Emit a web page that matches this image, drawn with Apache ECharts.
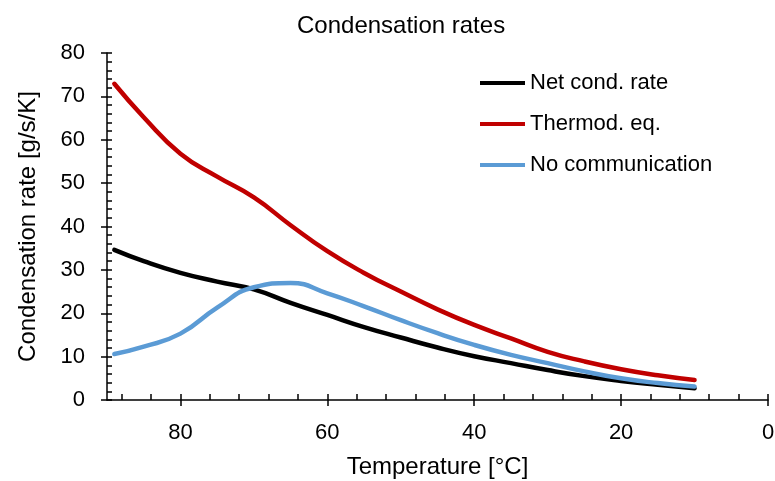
<!DOCTYPE html>
<html>
<head>
<meta charset="utf-8">
<script src="https://cdn.jsdelivr.net/npm/echarts@6/dist/echarts.min.js"></script>
<style>
    html, body { margin: 0; padding: 0; background: #fff; }
    #chart { width: 775px; height: 481px; }
</style>
</head>
<body>
<div id="chart"></div>
<script>
// temperatures in °C (axis runs from 90 down to 0)
const temps = [89, 85, 80, 75, 70, 65, 60, 55, 50, 45, 40, 35, 30, 25, 20, 15, 10]
// condensation rates [g/s/K]
const netRate = [34.6, 32.0, 29.3, 27.3, 25.5, 22.4, 19.6, 16.8, 14.4, 12.1, 10.1, 8.5, 6.9, 5.5, 4.4, 3.5, 2.7]
const thermoEq = [72.9, 65.2, 56.8, 51.5, 46.7, 40.3, 34.3, 29.3, 25.0, 20.9, 17.3, 14.2, 11.1, 8.9, 7.1, 5.7, 4.6]
const noComm = [10.6, 12.3, 15.3, 21.3, 26.0, 27.0, 24.6, 21.6, 18.4, 15.4, 12.7, 10.4, 8.5, 6.6, 5.0, 3.9, 3.1]
const seriesNames = ['Net cond. rate', 'Thermod. eq.', 'No communication']
const seriesColors = ['#000000', '#c00000', '#5b9bd5']
// tick positions
const xMajorTicks = [0, 20, 40, 60, 80]
const xMinorTicks = [0, 4, 8, 12, 16, 20, 24, 28, 32, 36, 40, 44, 48, 52, 56, 60, 64, 68, 72, 76, 80, 84, 88]
const yMajorTicks = [0, 10, 20, 30, 40, 50, 60, 70, 80]
const yMinorTicks = [0, 2, 4, 6, 8, 10, 12, 14, 16, 18, 20, 22, 24, 26, 28, 30, 32, 34, 36, 38, 40, 42, 44, 46, 48, 50, 52, 54, 56, 58, 60, 62, 64, 66, 68, 70, 72, 74, 76, 78, 80]

const font = 'Liberation Sans, Arial, sans-serif'
const chart = echarts.init(document.getElementById('chart'))

function pairs(vals) {
    return temps.map((t, i) => [t, vals[i]])
}

const tickStyle = { color: '#000', width: 1.5 }
const gridBox = { left: 107, right: 7, top: 53, bottom: 81, outerBoundsMode: 'none' }

const option = {
    animation: false,
    title: {
        text: 'Condensation rates',
        left: 292,
        top: 9,
        textStyle: { fontFamily: font, fontSize: 24, fontWeight: 'normal', color: '#000' }
    },
    legend: {
        orient: 'vertical',
        left: 475,
        top: 67,
        itemWidth: 45,
        itemHeight: 4,
        itemGap: 19,
        icon: 'rect',
        data: seriesNames,
        textStyle: { fontFamily: font, fontSize: 22, color: '#000', lineHeight: 22 }
    },
    // grid 0 carries the data and outside ticks, grid 1 only the inside ticks
    grid: [gridBox, gridBox],
    xAxis: [{
        type: 'value',
        gridIndex: 0,
        min: 0,
        max: 90,
        inverse: true,
        interval: 20,
        name: 'Temperature [°C]',
        nameLocation: 'middle',
        nameGap: 55,
        nameTextStyle: { fontFamily: font, fontSize: 24, color: '#000' },
        axisLine: { show: true, onZero: false, lineStyle: tickStyle },
        axisTick: { show: true, inside: false, length: 6, customValues: xMajorTicks, lineStyle: tickStyle },
        axisLabel: { fontFamily: font, fontSize: 22, color: '#000', margin: 22, customValues: xMajorTicks },
        splitLine: { show: false }
    }, {
        type: 'value',
        gridIndex: 1,
        min: 0,
        max: 90,
        inverse: true,
        position: 'bottom',
        axisLine: { show: false, onZero: false },
        axisTick: { show: true, inside: true, length: 6, customValues: xMinorTicks, lineStyle: tickStyle },
        axisLabel: { show: false },
        splitLine: { show: false }
    }],
    yAxis: [{
        type: 'value',
        gridIndex: 0,
        min: 0,
        max: 80,
        interval: 10,
        name: 'Condensation rate [g/s/K]',
        nameLocation: 'middle',
        nameGap: 67,
        nameTextStyle: { fontFamily: font, fontSize: 24, color: '#000' },
        axisLine: { show: true, onZero: false, lineStyle: tickStyle },
        axisTick: { show: true, inside: false, length: 6, customValues: yMajorTicks, lineStyle: tickStyle },
        axisLabel: { fontFamily: font, fontSize: 22, color: '#000', margin: 22, customValues: yMajorTicks },
        splitLine: { show: false }
    }, {
        type: 'value',
        gridIndex: 1,
        min: 0,
        max: 80,
        position: 'left',
        axisLine: { show: false, onZero: false },
        axisTick: { show: true, inside: true, length: 5, customValues: yMinorTicks, lineStyle: tickStyle },
        axisLabel: { show: false },
        splitLine: { show: false }
    }],
    series: [netRate, thermoEq, noComm].map((vals, i) => ({
        name: seriesNames[i],
        type: 'line',
        xAxisIndex: 0,
        yAxisIndex: 0,
        data: pairs(vals),
        smooth: 0.5,
        symbol: 'none',
        color: seriesColors[i],
        lineStyle: { width: 4.5, color: seriesColors[i], cap: 'round' },
        z: 3 + i
    }))
}
chart.setOption(option)
</script>
</body>
</html>
